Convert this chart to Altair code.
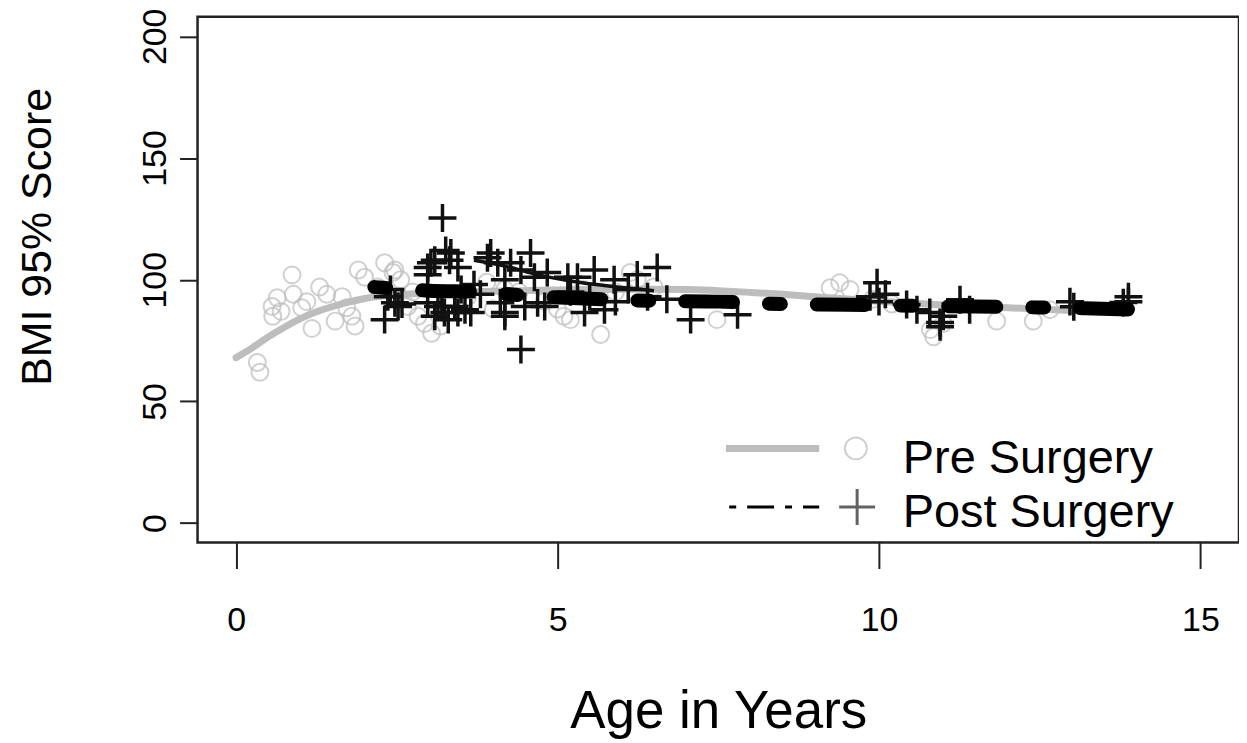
import altair as alt
import pandas as pd

# ---------------- data ----------------
pre_age = [0.33, 0.37, 0.56, 0.57, 0.64, 0.70, 0.87, 0.89, 1.02, 1.10,
           1.18, 1.30, 1.41, 1.54, 1.65, 1.72, 1.80, 1.85, 1.90, 2.00,
           2.20, 2.31, 2.44, 2.47, 2.56, 2.67, 2.75, 2.83, 2.93, 3.04,
           3.18, 3.60, 3.90, 4.00, 4.18, 4.40, 4.80, 5.00, 5.10, 5.20,
           5.40, 5.67, 5.90, 6.13, 6.24, 6.50, 7.48, 9.24, 9.39, 9.55,
           9.90, 10.20, 10.80, 10.85, 11.00, 11.83, 12.40, 12.66]
pre_bmi = [66, 62, 89, 85, 92.6, 87, 102, 94, 88.5, 91,
           80, 97, 94, 83, 93, 88.5, 85, 81, 104, 101,
           97, 107, 103, 104, 100, 89, 95, 85, 82, 78,
           81, 93, 99, 88, 96, 95, 91, 88, 85, 83.6,
           96, 77.5, 95, 103, 100, 97, 83.6, 96.7, 98.8, 96,
           92, 90, 79.5, 76.6, 82, 83, 83, 87.7]

post_age = [2.31, 2.36, 2.40, 2.47, 2.52, 2.58, 2.98, 2.98, 2.98, 3.03,
            3.09, 3.09, 3.14, 3.20, 3.21, 3.24, 3.26, 3.30, 3.32, 3.34,
            3.40, 3.45, 3.45, 3.50, 3.56, 3.65, 3.70, 3.80, 3.91, 3.96,
            4.07, 4.11, 4.18, 4.18, 4.18, 4.27, 4.43, 4.43, 4.49, 4.58,
            4.64, 4.69, 4.80, 4.84, 5.16, 5.20, 5.31, 5.42, 5.50, 5.57,
            5.73, 5.88, 5.90, 6.10, 6.24, 6.40, 6.55, 6.70, 7.07, 7.80,
            9.86, 9.97, 10.00, 10.10, 10.43, 10.59, 10.79, 10.95, 10.95, 11.00,
            11.26, 11.41, 12.97, 13.03, 13.80, 13.88, 13.88]
post_bmi = [83.6, 93, 96, 90.5, 89, 90, 105, 102, 90.5, 107,
            108, 85, 89, 89, 125.4, 86.5, 112, 83.6, 108, 111,
            89, 105, 86.5, 96, 87.7, 86.5, 98, 94, 109, 111,
            107, 90.5, 100, 85, 86.5, 107, 104, 71.3, 89, 111,
            101, 90.5, 89, 103, 101, 95, 101, 86.5, 93, 104,
            87.7, 100, 91, 96, 102, 93, 105, 92, 83.6, 85.6,
            93, 98.8, 91, 94, 89.8, 87.7, 86.5, 82.4, 80.7, 85,
            91.8, 87.7, 91, 88.9, 90.6, 93, 91]

pre_fit_age = [0.0, 0.25, 0.5, 0.75, 1.0, 1.25, 1.5, 1.75, 2.0, 2.5, 3.0, 4.0,
               5.0, 6.0, 7.0, 7.5, 8.0, 8.5, 9.0, 10.0, 11.0, 12.0, 13.0, 13.9]
pre_fit_bmi = [68, 72, 76.5, 80.5, 84, 86.8, 89, 90.8, 92.3, 93.8, 94.5, 95.3,
               95.8, 96.1, 96, 95.5, 94.8, 94, 93, 91.2, 89.6, 88.5, 87.4, 86.6]

post_fit_age = [2.15, 3.0, 3.8, 4.5, 5.5, 6.5, 7.5, 8.5, 9.5, 10.5, 11.5, 12.5, 13.2, 14.0]
post_fit_bmi = [97, 95.5, 95, 93.5, 92.2, 91.3, 91, 90, 89.7, 89.3, 89, 88.6, 88.3, 87.7]

post_trend_age = [3.70, 4.20, 4.70, 5.20, 5.60, 6.00, 6.50]
post_trend_bmi = [108, 105.5, 102, 99.5, 98, 96.8, 95.5]

x_ticks = [0, 5, 10, 15]
y_ticks = [0, 50, 100, 150, 200]
legend_labels = ["Pre Surgery", "Post Surgery"]

# ---------------- chart ----------------
FONT = "Liberation Sans"
GRAY = "#bdbdbd"
PLUS = "M-1,0L1,0M0,-1L0,1"

xs = alt.Scale(domain=[-0.6, 15.6], nice=False, zero=False)
ys = alt.Scale(domain=[-8, 208], nice=False, zero=False)

x_axis = alt.Axis(values=x_ticks, format="d", title="Age in Years",
                  labelFont=FONT, labelFontSize=34, labelColor="#000",
                  labelPadding=35, labelBaseline="top", labelFlush=False,
                  labelOverlap=False, tickSize=26, tickWidth=2, tickColor="#222",
                  domain=False, grid=False,
                  titleFont=FONT, titleFontSize=53, titleFontWeight="normal",
                  titleColor="#000", titleX=522, titleY=185,
                  titleAlign="center", titleBaseline="alphabetic")
y_axis = alt.Axis(values=y_ticks, format="d", title="BMI 95% Score",
                  labelFont=FONT, labelFontSize=34, labelColor="#000",
                  labelAngle=270, labelAlign="center", labelBaseline="alphabetic",
                  labelPadding=14, labelFlush=False, labelOverlap=False,
                  tickSize=18, tickWidth=2, tickColor="#222",
                  domain=False, grid=False,
                  titleFont=FONT, titleFontSize=43, titleFontWeight="normal",
                  titleColor="#000", titleAngle=270, titleX=-147, titleY=220,
                  titleAlign="center", titleBaseline="alphabetic")


def X(field):
    return alt.X(field, type="quantitative", scale=xs, axis=x_axis)


def Y(field):
    return alt.Y(field, type="quantitative", scale=ys, axis=y_axis)


pre_df = pd.DataFrame({"age": pre_age, "bmi": pre_bmi})
post_df = pd.DataFrame({"age": post_age, "bmi": post_bmi})
pre_fit_df = pd.DataFrame({"age": pre_fit_age, "bmi": pre_fit_bmi})
post_fit_df = pd.DataFrame({"age": post_fit_age, "bmi": post_fit_bmi})
trend_df = pd.DataFrame({"age": post_trend_age, "bmi": post_trend_bmi})

pre_pts = alt.Chart(pre_df).mark_point(
    shape="circle", filled=False, size=289, stroke=GRAY, strokeWidth=2
).encode(x=X("age"), y=Y("bmi"))

pre_line = alt.Chart(pre_fit_df).mark_line(
    color=GRAY, strokeWidth=7, strokeCap="round", interpolate="monotone"
).encode(x=X("age"), y=Y("bmi"))

post_pts = alt.Chart(post_df).mark_point(
    shape=PLUS, filled=False, size=784, stroke="#111", strokeWidth=3.5, opacity=1
).encode(x=X("age"), y=Y("bmi"))

trend_line = alt.Chart(trend_df).mark_line(
    color="#111", strokeWidth=3.5, interpolate="monotone"
).encode(x=X("age"), y=Y("bmi"))

post_line = alt.Chart(post_fit_df).mark_line(
    color="#000", strokeWidth=14, strokeCap="round",
    strokeDash=[12, 36, 48, 36], interpolate="monotone"
).encode(x=X("age"), y=Y("bmi"))

# ---------------- legend (placed in data units, like R's legend) ----------------
leg_df = pd.DataFrame({
    "label": legend_labels,
    "age": [7.62, 7.67], "age2": [9.07, 9.07], "bmi": [30.7, 6.6],
    "sx": [9.64, 9.66], "tx": [10.37, 10.37], "ty": [20.5, -1.6],
})
leg_pre = leg_df[leg_df.label == "Pre Surgery"]
leg_post = leg_df[leg_df.label == "Post Surgery"]

leg_rule_pre = alt.Chart(leg_pre).mark_rule(
    color=GRAY, strokeWidth=7, strokeCap="butt"
).encode(x=X("age"), x2="age2:Q", y=Y("bmi"))
leg_rule_post = alt.Chart(leg_post).mark_rule(
    color="#000", strokeWidth=3, strokeDash=[7, 11, 27, 11]
).encode(x=X("age"), x2="age2:Q", y=Y("bmi"))
leg_sym_pre = alt.Chart(leg_pre).mark_point(
    shape="circle", filled=False, size=484, stroke=GRAY, strokeWidth=2
).encode(x=X("sx"), y=Y("bmi"))
leg_sym_post = alt.Chart(leg_post).mark_point(
    shape=PLUS, filled=False, size=1296, stroke="#222", strokeWidth=3
).encode(x=X("sx"), y=Y("bmi"))
leg_text = alt.Chart(leg_df).mark_text(
    align="left", baseline="alphabetic", font=FONT, fontSize=47, color="#000"
).encode(x=X("tx"), y=Y("ty"), text="label:N")

chart = alt.layer(
    pre_pts, pre_line, post_pts, trend_line, post_line,
    leg_rule_pre, leg_rule_post, leg_sym_pre, leg_sym_post, leg_text
).properties(
    width=1044, height=527,
    autosize=alt.AutoSizeParams(type="none"),
    padding={"left": 190, "top": 8, "right": 0, "bottom": 197},
    background="white",
).configure_view(stroke="#222", strokeWidth=2.5)

chart.save("out.html", embed_options={"renderer": "svg", "actions": False})
